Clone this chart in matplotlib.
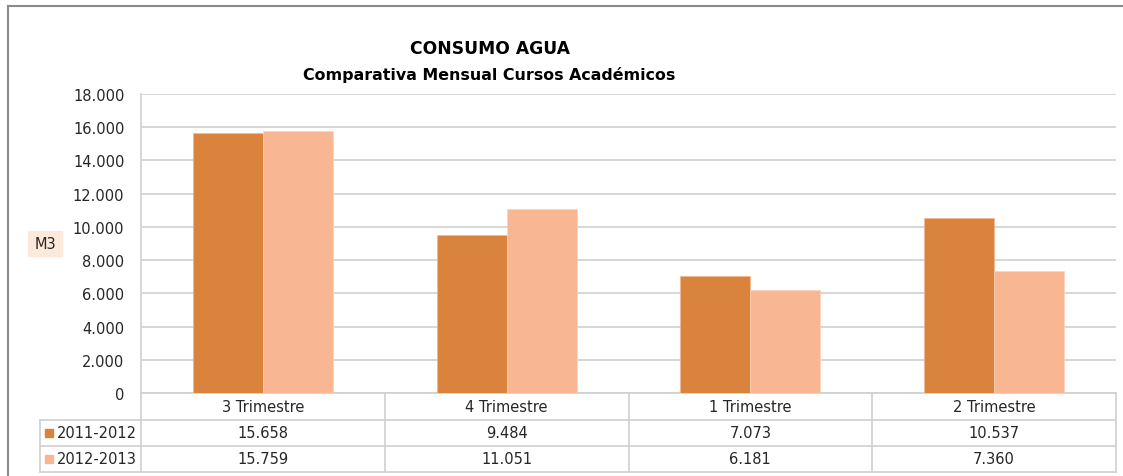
import matplotlib

matplotlib.use("Agg")
import matplotlib.pyplot as plt  # noqa: E402
import numpy as np  # noqa: E402
from matplotlib.lines import Line2D  # noqa: E402
from matplotlib.patches import Rectangle  # noqa: E402
from matplotlib.ticker import FuncFormatter  # noqa: E402

# data
categories = ["3 Trimestre", "4 Trimestre", "1 Trimestre", "2 Trimestre"]
series_names = ["2011-2012", "2012-2013"]
consumo_2011_2012 = [15658, 9484, 7073, 10537]
consumo_2012_2013 = [15759, 11051, 6181, 7360]
y_ticks = [0, 2000, 4000, 6000, 8000, 10000, 12000, 14000, 16000, 18000]

ORANGE = "#DA833D"
PEACH = "#F8B692"
GRID = "#D0D0D0"
TEXT = "#262626"

W, H = 1123, 477
plt.rcParams["font.family"] = ["DejaVu Sans"]
fig = plt.figure(figsize=(W / 100, H / 100), dpi=100)

# plot area in pixels: x 141..1116, y 95..394
x0, x1, ytop, ybot = 141, 1116, 95, 394
ax = fig.add_axes([x0 / W, 1 - ybot / H, (x1 - x0) / W, (ybot - ytop) / H])

x = np.arange(len(categories))
bw = 0.287
ax.bar(x - bw / 2, consumo_2011_2012, width=bw, color=ORANGE, edgecolor="#F0B690", linewidth=0.5, zorder=3)
ax.bar(x + bw / 2, consumo_2012_2013, width=bw, color=PEACH, edgecolor="#FBD3BD", linewidth=0.5, zorder=3)

ax.set_xlim(-0.5, len(categories) - 0.5)
ax.set_ylim(0, 18000)
ax.set_yticks(y_ticks)
ax.yaxis.set_major_formatter(FuncFormatter(lambda v, _: f"{int(v):,}".replace(",", ".")))
ax.tick_params(axis="y", length=0, pad=12, labelsize=10.5, labelcolor=TEXT)
ax.set_xticks([])
ax.grid(axis="y", color=GRID, linewidth=1.2, zorder=0)
for side in ["top", "right"]:
    ax.spines[side].set_visible(False)
for side in ["left", "bottom"]:
    ax.spines[side].set_color(GRID)
    ax.spines[side].set_linewidth(1.2)

# data table below the plot
def yfrac(py):
    return (ybot - py) / (ybot - ytop)

def xfrac(px):
    return (px - x0) / (x1 - x0)

row_lines = [421, 447, 473]
leg_left = 40
tr = ax.transAxes
lkw = dict(color=GRID, linewidth=1.2, transform=tr, clip_on=False)
for py in row_lines:
    ax.add_line(Line2D([xfrac(leg_left), 1], [yfrac(py), yfrac(py)], **lkw))
for i in range(len(categories) + 1):
    xf = i / len(categories)
    ax.add_line(Line2D([xf, xf], [yfrac(ybot), yfrac(473)], **lkw))
ax.add_line(Line2D([xfrac(leg_left), xfrac(leg_left)], [yfrac(421), yfrac(473)], **lkw))

row_mid = [(394 + 421) / 2, (421 + 447) / 2, (447 + 473) / 2]
for i, cat in enumerate(categories):
    xc = (i + 0.5) / len(categories)
    ax.text(xc, yfrac(row_mid[0]), cat, transform=tr, ha="center", va="center", fontsize=10.5, color=TEXT)
    for r, vals in enumerate([consumo_2011_2012, consumo_2012_2013]):
        ax.text(xc, yfrac(row_mid[r + 1]), f"{vals[i]:,}".replace(",", "."), transform=tr,
                ha="center", va="center", fontsize=10.5, color=TEXT)

for r, (name, col) in enumerate(zip(series_names, [ORANGE, PEACH])):
    yc = row_mid[r + 1]
    fig.patches.append(Rectangle((45 / W, 1 - (yc + 4) / H), 8 / W, 8 / H, color=col,
                                 transform=fig.transFigure))
    fig.text(57 / W, 1 - yc / H, name, ha="left", va="center", fontsize=10.5, color=TEXT)

# axis label box
fig.patches.append(Rectangle((28 / W, 1 - 257 / H), 34 / W, 25 / H, color="#FCE9DB",
                             transform=fig.transFigure, zorder=0))
fig.text(45 / W, 1 - 245 / H, "M3", ha="center", va="center", fontsize=10.5, color=TEXT)

# title
fig.text(490 / W, 1 - 49 / H, "CONSUMO AGUA", ha="center", va="center", fontsize=12.3,
         fontweight="bold", color="#000000")
fig.text(489 / W, 1 - 75 / H, "Comparativa Mensual Cursos Académicos", ha="center", va="center",
         fontsize=11.4, fontweight="bold", color="#000000")

# chart frame (left and top edges)
fig.add_artist(Line2D([8 / W, 8 / W], [0, 1 - 7 / H], color="#8A8A8A", linewidth=1.5,
                      transform=fig.transFigure))
fig.add_artist(Line2D([8 / W, 1], [1 - 7 / H, 1 - 7 / H], color="#8A8A8A", linewidth=1.5,
                      transform=fig.transFigure))

fig.savefig("out.png", dpi=100)
